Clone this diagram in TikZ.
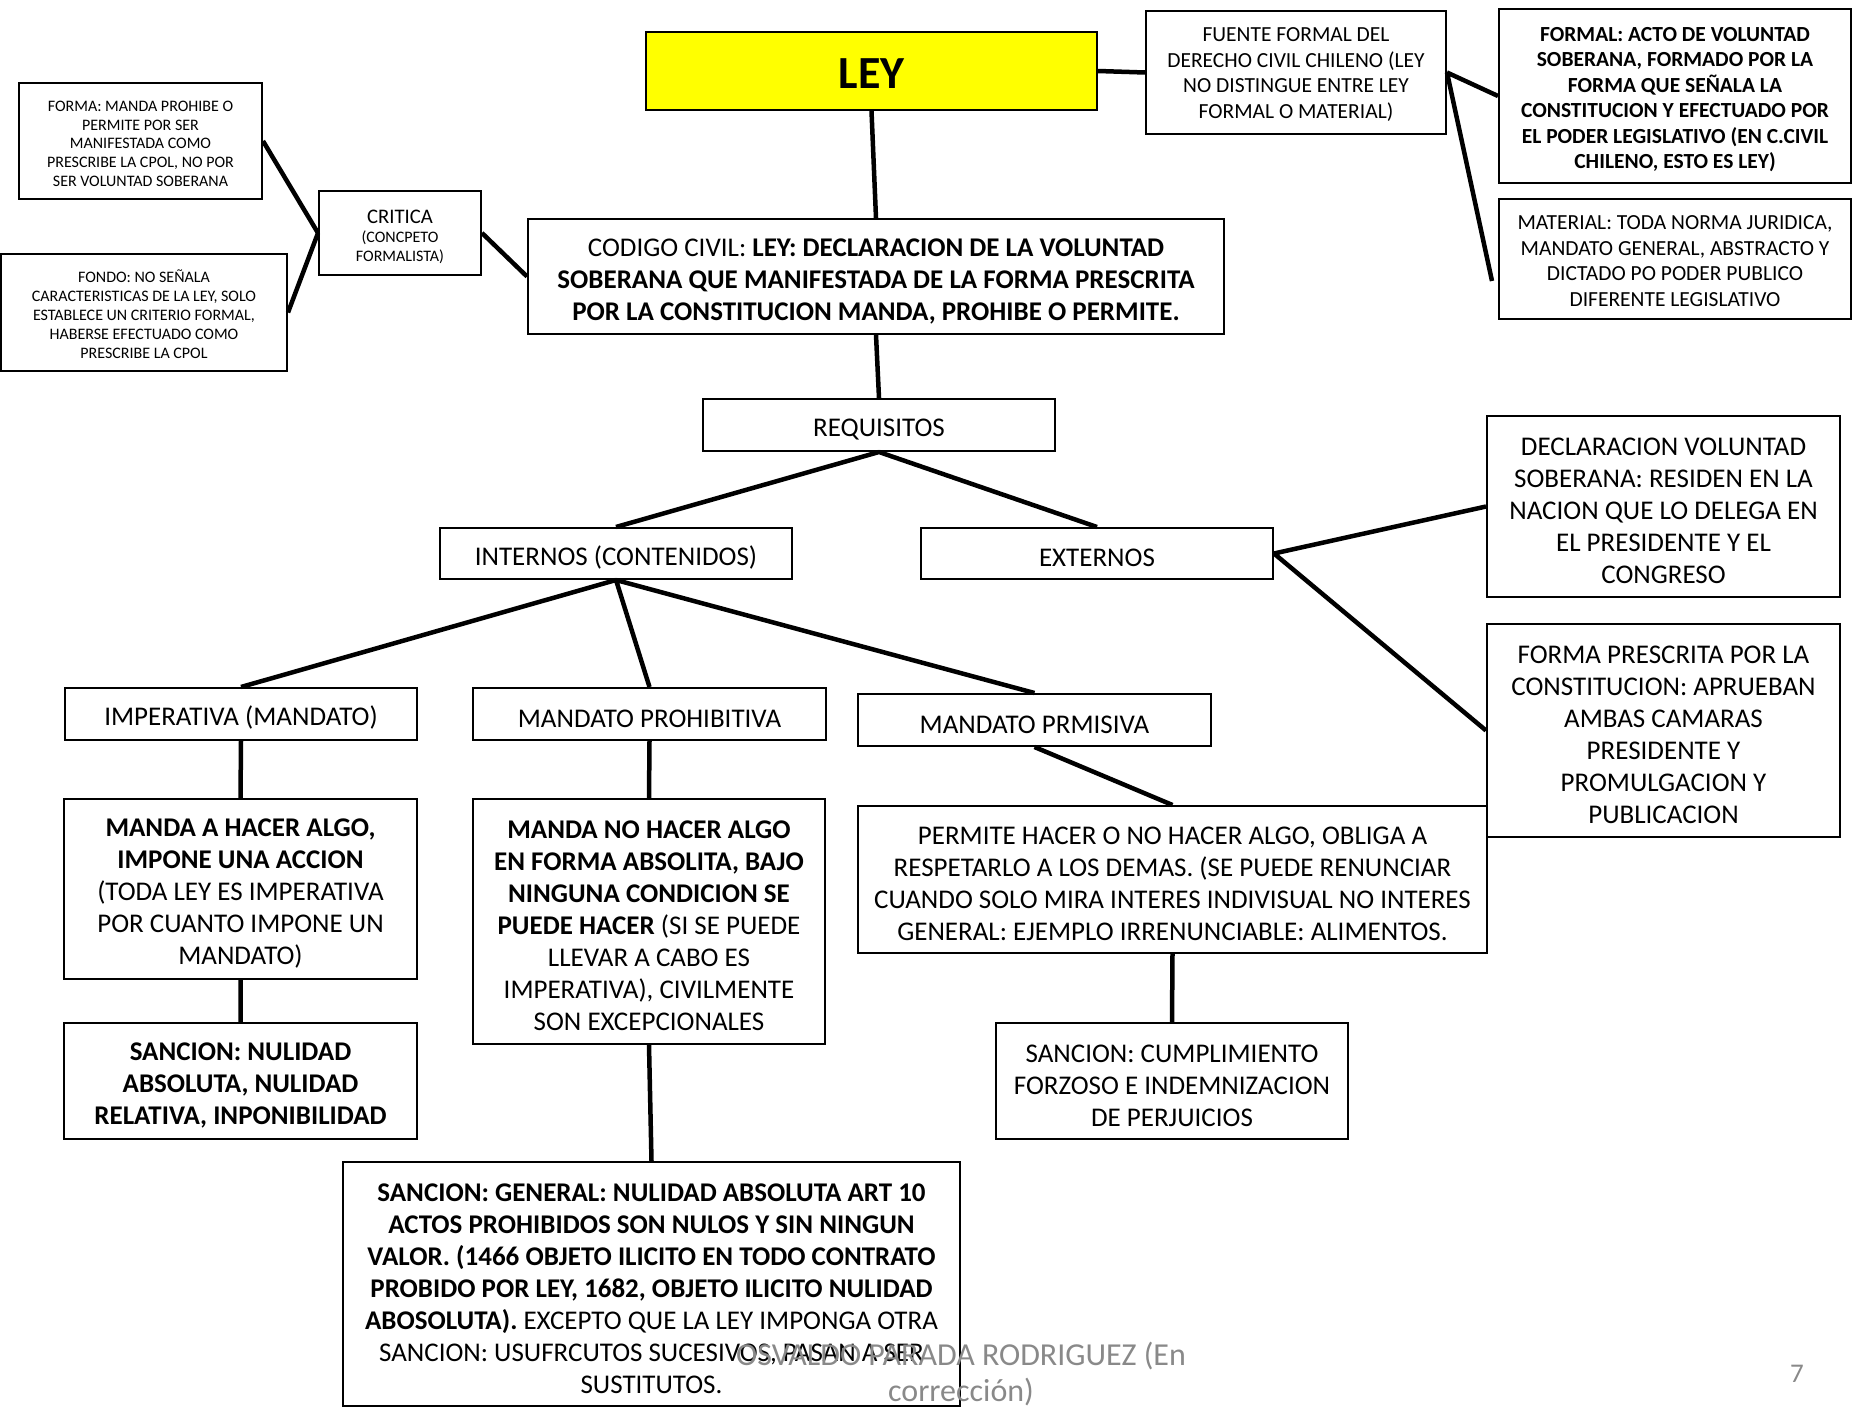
\documentclass[tikz,border=0pt]{standalone}
\usepackage{fontspec}
\setmainfont{Carlito}
\usetikzlibrary{positioning}
\newcommand\fsley{\fontsize{46}{52}\selectfont}
\newcommand\fsmid{\fontsize{27}{32}\selectfont}
\newcommand\fsnote{\fontsize{21.5}{25.5}\selectfont}
\newcommand\fssmall{\fontsize{16}{18.8}\selectfont}
\newcommand\tp{\rule{0pt}{1em}}
\definecolor{leyyellow}{RGB}{255,255,0}
\definecolor{footgray}{RGB}{137,137,137}
\tikzset{
  box/.style={draw, line width=2pt, align=center, inner sep=0pt, font=\fsmid},
  notebox/.style={box, font=\fsnote},
  smallbox/.style={box, font=\fssmall},
  branch/.style={line width=4.5pt},
}

\begin{document}
\begin{tikzpicture}[x=1pt, y=-1pt]
		\useasboundingbox (0,0) rectangle (1853,1408);
		\node[box, fill=leyyellow, minimum width=451, minimum height=78, font=\fsley\bfseries] (ley) at (871.5,71) {\rule{0pt}{35pt}LEY};
		\node[notebox, minimum width=300, minimum height=123] (fuente) at (1296,72.5) {\rule{0pt}{0.85em}FUENTE FORMAL DEL\\DERECHO CIVIL CHILENO (LEY\\NO DISTINGUE ENTRE LEY\\FORMAL O MATERIAL)};
		\node[notebox, minimum width=352, minimum height=174, font=\fsnote\bfseries] (formal) at (1675,96) {\tp FORMAL: ACTO DE VOLUNTAD\\SOBERANA, FORMADO POR LA\\FORMA QUE SEÑALA LA\\CONSTITUCION Y EFECTUADO POR\\EL PODER LEGISLATIVO (EN C.CIVIL\\CHILENO, ESTO ES LEY)};
		\node[notebox, minimum width=352, minimum height=120] (material) at (1675,259) {\rule{0pt}{0.85em}MATERIAL: TODA NORMA JURIDICA,\\MANDATO GENERAL, ABSTRACTO Y\\DICTADO PO PODER PUBLICO\\DIFERENTE LEGISLATIVO};
		\node[smallbox, minimum width=243, minimum height=116] (forma) at (140.5,141) {\tp FORMA: MANDA PROHIBE O\\PERMITE POR SER\\MANIFESTADA COMO\\PRESCRIBE LA CPOL, NO POR\\SER VOLUNTAD SOBERANA};
		\node[smallbox, minimum width=286, minimum height=117] (fondo) at (144,312.5) {\tp FONDO: NO SEÑALA\\CARACTERISTICAS DE LA LEY, SOLO\\ESTABLECE UN CRITERIO FORMAL,\\HABERSE EFECTUADO COMO\\PRESCRIBE LA CPOL};
		\node[smallbox, minimum width=162, minimum height=84] (critica) at (400,233) {{\fontsize{20.7}{22}\selectfont\tp CRITICA}\\(CONCPETO\\FORMALISTA)};
		\node[box, minimum width=696, minimum height=115] (codigo) at (876,276.5) {\tp CODIGO CIVIL: \textbf{LEY: DECLARACION DE LA VOLUNTAD}\\\textbf{SOBERANA QUE MANIFESTADA DE LA FORMA PRESCRITA}\\\textbf{POR LA CONSTITUCION MANDA, PROHIBE O PERMITE.}};
		\node[box, minimum width=352, minimum height=52] (requisitos) at (879,425) {\tp REQUISITOS};
		\node[box, minimum width=352, minimum height=51] (internos) at (616,553.5) {\tp INTERNOS (CONTENIDOS)};
		\node[box, minimum width=352, minimum height=51] (externos) at (1097,553.5) {\tp EXTERNOS};
		\node[box, minimum width=353, minimum height=181] (declaracion) at (1663.5,506.5) {\tp DECLARACION VOLUNTAD\\SOBERANA: RESIDEN EN LA\\NACION QUE LO DELEGA EN\\EL PRESIDENTE Y EL\\CONGRESO};
		\node[box, minimum width=353, minimum height=213] (prescrita) at (1663.5,730.5) {\tp FORMA PRESCRITA POR LA\\CONSTITUCION: APRUEBAN\\AMBAS CAMARAS\\PRESIDENTE Y\\PROMULGACION Y\\PUBLICACION};
		\node[box, minimum width=352, minimum height=52] (imperativa) at (241,714) {\tp IMPERATIVA (MANDATO)};
		\node[box, minimum width=353, minimum height=52] (prohibitiva) at (649.5,714) {\tp MANDATO PROHIBITIVA};
		\node[box, minimum width=353, minimum height=52] (prmisiva) at (1034.5,720) {\tp MANDATO PRMISIVA};
		\node[box, minimum width=353, minimum height=180] (mandaA) at (240.5,889) {\tp\textbf{MANDA A HACER ALGO,}\\\textbf{IMPONE UNA ACCION}\\(TODA LEY ES IMPERATIVA\\POR CUANTO IMPONE UN\\MANDATO)};
		\node[box, minimum width=352, minimum height=245] (mandaNo) at (649,921.5) {\tp\textbf{MANDA NO HACER ALGO}\\\textbf{EN FORMA ABSOLITA, BAJO}\\\textbf{NINGUNA CONDICION SE}\\\textbf{PUEDE HACER} (SI SE PUEDE\\LLEVAR A CABO ES\\IMPERATIVA), CIVILMENTE\\SON EXCEPCIONALES};
		\node[box, minimum width=629, minimum height=147] (permite) at (1172.5,879.5) {\tp PERMITE HACER O NO HACER ALGO, OBLIGA A\\RESPETARLO A LOS DEMAS. (SE PUEDE RENUNCIAR\\CUANDO SOLO MIRA INTERES INDIVISUAL NO INTERES\\GENERAL: EJEMPLO IRRENUNCIABLE: ALIMENTOS.};
		\node[box, minimum width=353, minimum height=116, font=\fsmid\bfseries] (sancionA) at (240.5,1081) {\tp SANCION: NULIDAD\\ABSOLUTA, NULIDAD\\RELATIVA, INPONIBILIDAD};
		\node[box, minimum width=352, minimum height=116] (sancionC) at (1172,1081) {\tp SANCION: CUMPLIMIENTO\\FORZOSO E INDEMNIZACION\\DE PERJUICIOS};
		\node[box, minimum width=617, minimum height=244] (sancionG) at (651.5,1284) {\tp\textbf{SANCION: GENERAL: NULIDAD ABSOLUTA ART 10}\\\textbf{ACTOS PROHIBIDOS SON NULOS Y SIN NINGUN}\\\textbf{VALOR. (1466 OBJETO ILICITO EN TODO CONTRATO}\\\textbf{PROBIDO POR LEY, 1682, OBJETO ILICITO NULIDAD}\\\textbf{ABOSOLUTA).} EXCEPTO QUE LA LEY IMPONGA OTRA\\SANCION: USUFRCUTOS SUCESIVOS, PASAN A SER\\SUSTITUTOS.};
		\node[align=center, text=footgray, font=\fontsize{32}{36}\selectfont] (autor) at (961,1374) {OSVALDO PARADA RODRIGUEZ (En\\corrección)};
		\node[text=footgray, font=\fontsize{27}{32}\selectfont] (pagina) at (1797,1374) {7};
		\draw[branch]
		(ley.south) -- (codigo.north)
		(ley.east) -- (fuente.west)
		(fuente.east) -- (formal.west)
		(fuente.east) -- ([xshift=-6pt,yshift=-22pt]material.west)
		(forma.east) -- (critica.west)
		(fondo.east) -- (critica.west)
		(critica.east) -- (codigo.west)
		(codigo.south) -- (requisitos.north)
		(requisitos.south) -- (internos.north)
		(requisitos.south) -- (externos.north)
		(internos.south) -- (imperativa.north)
		(internos.south) -- (prohibitiva.north)
		(internos.south) -- (prmisiva.north)
		(externos.east) -- (declaracion.west)
		(externos.east) -- (prescrita.west)
		(imperativa.south) -- (mandaA.north)
		(mandaA.south) -- (sancionA.north)
		(prohibitiva.south) -- (mandaNo.north)
		(mandaNo.south) -- (sancionG.north)
		(prmisiva.south) -- (permite.north)
		(permite.south) -- (sancionC.north)
		;
\end{tikzpicture}
\end{document}
